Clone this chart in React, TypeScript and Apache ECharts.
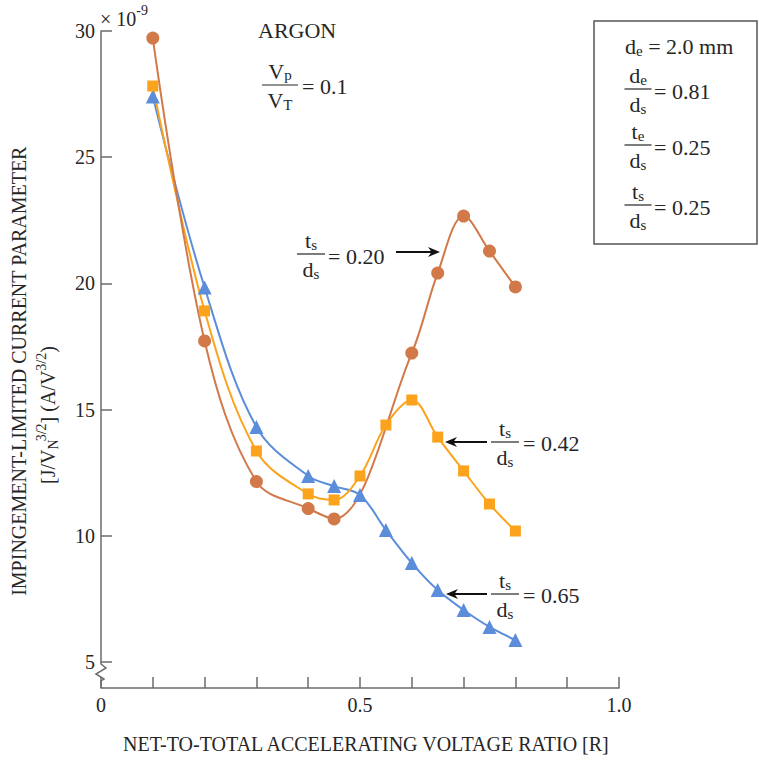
import React, { useEffect, useRef } from 'react';
import * as echarts from 'echarts';

// Net-to-total accelerating voltage ratio R (x) and impingement-limited current parameter (y, ×1e-9)
const R_020 = [0.1, 0.2, 0.3, 0.4, 0.45, 0.6, 0.65, 0.7, 0.75, 0.8];
const J_020 = [29.72, 17.72, 12.15, 11.08, 10.67, 17.24, 20.41, 22.67, 21.28, 19.86];
const R_042 = [0.1, 0.2, 0.3, 0.4, 0.45, 0.5, 0.55, 0.6, 0.65, 0.7, 0.75, 0.8];
const J_042 = [27.82, 18.91, 13.36, 11.66, 11.42, 12.37, 14.39, 15.38, 13.91, 12.57, 11.26, 10.19];
const R_065 = [0.1, 0.2, 0.3, 0.4, 0.45, 0.5, 0.55, 0.6, 0.65, 0.7, 0.75, 0.8];
const J_065 = [27.4, 19.84, 14.31, 12.37, 11.97, 11.62, 10.23, 8.92, 7.85, 7.06, 6.39, 5.87];
const X_TICK_LABELS: Record<string, string> = { '0': '0', '0.5': '0.5', '1': '1.0' };

const FONT = '"Liberation Serif","Times New Roman",serif';
const INK = '#262626';
const AXIS = '#6b6b6b';
const BROWN = '#D2794A';
const ORANGE = '#FBA31C';
const BLUE = '#5B8DDB';
const ANN = 22; // annotation font size
const SUB = 15;

let _ctx: CanvasRenderingContext2D | null = null;
function tw(t: string, s: number) {
  if (!_ctx) _ctx = document.createElement('canvas').getContext('2d');
  _ctx!.font = `${s}px ${FONT}`;
  return _ctx!.measureText(t).width;
}

type Run = { t: string; s?: number; dy?: number; dx?: number };

function runs(x: number, y: number, items: Run[], base = ANN, align: 'left' | 'center' = 'left') {
  const widths = items.map((r) => tw(r.t, r.s ?? base) + (r.dx ?? 0));
  const total = widths.reduce((a, b) => a + b, 0);
  let cx = align === 'center' ? x - total / 2 : x;
  const out: any[] = [];
  items.forEach((r, i) => {
    const s = r.s ?? base;
    out.push({
      type: 'text',
      x: cx + (r.dx ?? 0),
      y: y + (r.dy ?? 0),
      silent: true,
      style: {
        text: r.t,
        font: `${s}px ${FONT}`,
        fill: INK,
        align: 'left',
        verticalAlign: 'middle',
        textAlign: 'left',
        textVerticalAlign: 'middle',
      },
    });
    cx += widths[i];
  });
  return out;
}

function frac(cx: number, ly: number, num: Run[], den: Run[], w: number, base = ANN) {
  return [
    ...runs(cx, ly - 14, num, base, 'center'),
    { type: 'line', silent: true, shape: { x1: cx - w / 2, y1: ly, x2: cx + w / 2, y2: ly }, style: { stroke: INK, lineWidth: 1.2 } },
    ...runs(cx, ly + 15, den, base, 'center'),
  ];
}

function arrow(x1: number, y: number, x2: number) {
  const dir = Math.sign(x2 - x1);
  const hl = 12;
  const hw = 5;
  return [
    { type: 'line', silent: true, shape: { x1, y1: y, x2: x2 - dir * hl * 0.6, y2: y }, style: { stroke: '#111', lineWidth: 2.2 } },
    {
      type: 'polygon',
      silent: true,
      shape: { points: [[x2, y], [x2 - dir * hl, y - hw], [x2 - dir * hl * 0.7, y], [x2 - dir * hl, y + hw]] },
      style: { fill: '#111' },
    },
  ];
}

const sub = (t: string): Run => ({ t, s: SUB, dy: 5 });
const TS = [{ t: 't' }, sub('s')];
const DS = [{ t: 'd' }, sub('s')];
const DE = [{ t: 'd' }, sub('e')];
const TE = [{ t: 't' }, sub('e')];

export default function App() {
  const ref = useRef<HTMLDivElement>(null);
  useEffect(() => {
    if (!ref.current) return;
    const chart = echarts.init(ref.current, null, { renderer: 'svg' });

    const elements: any[] = [
      // axis break
      {
        type: 'polyline',
        silent: true,
        shape: { points: [[101, 662], [101, 664], [106, 668], [96, 674], [104, 679], [101, 681], [101, 688]] },
        style: { stroke: AXIS, lineWidth: 1.5, fill: null },
      },
      // exponent
      ...runs(100, 19, [{ t: '× 10' }, { t: '-9', s: 14, dy: -9 }], 20),
      // ARGON
      ...runs(258, 30, [{ t: 'ARGON' }]),
      ...frac(280, 85, [{ t: 'V' }, { t: 'p', s: SUB, dy: 4 }], [{ t: 'V' }, { t: 'T', s: SUB, dy: 5 }], 36),
      ...runs(302, 86, [{ t: '= 0.1' }]),
      // legend box
      { type: 'rect', silent: true, shape: { x: 594, y: 21, width: 163, height: 223 }, style: { fill: 'transparent', stroke: '#555', lineWidth: 1.5 } },
      ...runs(625, 46, [...DE, { t: ' = 2.0 mm' }]),
      ...frac(638, 89, DE, DS, 27),
      ...runs(654, 91, [{ t: '= 0.81' }]),
      ...frac(638, 145, TE, DS, 27),
      ...runs(654, 147, [{ t: '= 0.25' }]),
      ...frac(638, 205, TS, DS, 27),
      ...runs(654, 207, [{ t: '= 0.25' }]),
      // annotations
      ...frac(311, 254, TS, DS, 28),
      ...runs(328, 256, [{ t: '= 0.20' }]),
      ...arrow(396, 252, 440),
      ...frac(505, 442, TS, DS, 28),
      ...runs(523, 443, [{ t: '= 0.42' }]),
      ...arrow(487, 442, 445),
      ...frac(505, 594, TS, DS, 28),
      ...runs(523, 595, [{ t: '= 0.65' }]),
      ...arrow(487, 594, 446),
      // x axis title
      ...runs(367, 744, [{ t: 'NET-TO-TOTAL ACCELERATING VOLTAGE RATIO [R]' }], 20, 'center'),
      // y axis title
      {
        type: 'group',
        x: 19,
        y: 371,
        rotation: Math.PI / 2,
        children: runs(0, 0, [{ t: 'IMPINGEMENT-LIMITED CURRENT PARAMETER' }], 20, 'center'),
      },
      {
        type: 'group',
        x: 48,
        y: 415,
        rotation: Math.PI / 2,
        children: runs(
          0,
          0,
          [
            { t: '[J/V' },
            { t: 'N', s: 14, dy: 5 },
            { t: '3/2', s: 14, dy: -7, dx: -2 },
            { t: '] (A/V' },
            { t: '3/2', s: 14, dy: -7 },
            { t: ')' },
          ],
          20,
          'center'
        ),
      },
    ];

    const mk = (name: string, xs: number[], ys: number[], color: string, symbol: string, size: number) => ({
      name,
      type: 'line',
      data: xs.map((x, i) => [x, ys[i]]),
      smooth: 0.35,
      symbol,
      symbolSize: size,
      itemStyle: { color },
      lineStyle: { color, width: 2 },
      z: 3,
    });

    const axisLabel = { fontFamily: FONT, fontSize: 20, color: INK };

    chart.setOption({
      animation: false,
      backgroundColor: '#ffffff',
      grid: { left: 101, top: 31, width: 518, height: 631 },
      xAxis: {
        type: 'value',
        min: 0,
        max: 1,
        interval: 0.1,
        offset: 26,
        axisLine: { show: true, onZero: false, lineStyle: { color: AXIS, width: 1.5 } },
        axisTick: { show: true, inside: true, length: 11, lineStyle: { color: AXIS, width: 1.5 } },
        axisLabel: {
          ...axisLabel,
          margin: 7,
          showMinLabel: true,
          showMaxLabel: true,
          formatter: (v: number) => {
            const k = String(Math.round(v * 10) / 10);
            return X_TICK_LABELS[k] ?? '';
          },
        },
        splitLine: { show: false },
      },
      yAxis: {
        type: 'value',
        min: 5,
        max: 30,
        interval: 5,
        axisLine: { show: true, onZero: false, lineStyle: { color: AXIS, width: 1.5 } },
        axisTick: { show: true, inside: true, length: 11, lineStyle: { color: AXIS, width: 1.5 } },
        axisLabel: { ...axisLabel, margin: 6 },
        splitLine: { show: false },
      },
      series: [
        mk('ts/ds = 0.65', R_065, J_065, BLUE, 'triangle', 14),
        mk('ts/ds = 0.42', R_042, J_042, ORANGE, 'rect', 11),
        mk('ts/ds = 0.20', R_020, J_020, BROWN, 'circle', 13),
      ],
      graphic: { elements },
    });
    return () => chart.dispose();
  }, []);
  return <div ref={ref} style={{ position: 'absolute', left: 0, top: 0, width: 759, height: 760 }} />;
}
